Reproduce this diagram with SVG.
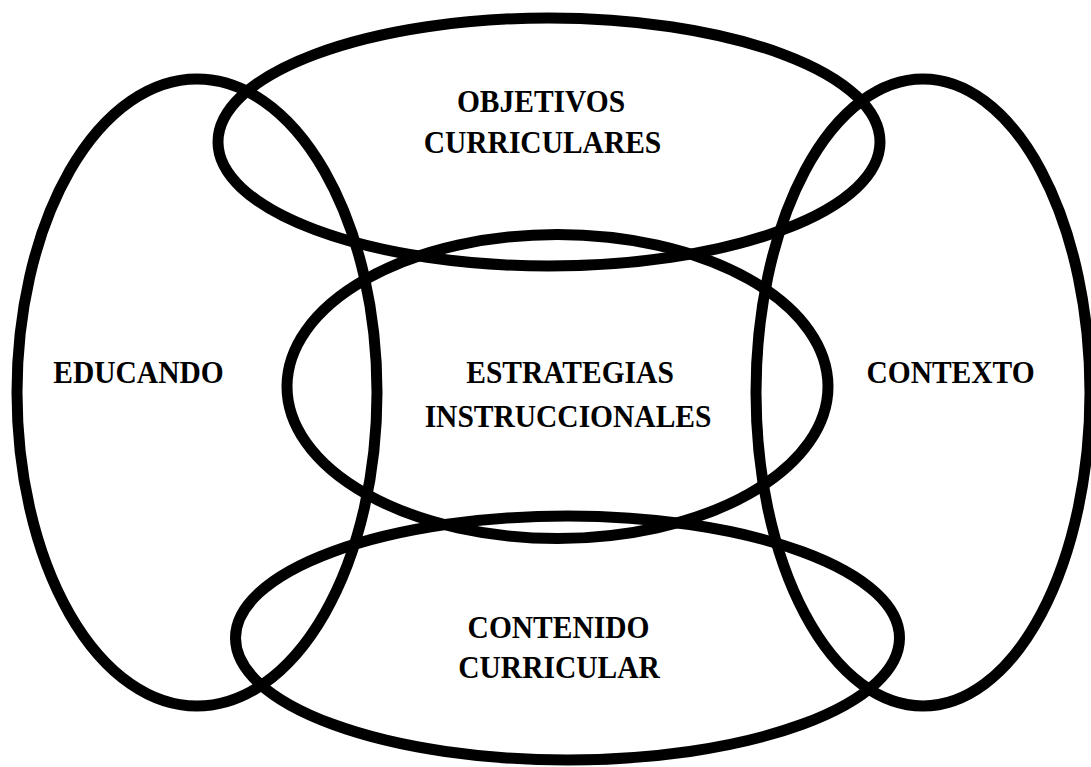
<svg xmlns="http://www.w3.org/2000/svg" width="1091" height="767" viewBox="0 0 1091 767">
<style>
.sh{fill:none;stroke:#000;stroke-width:11}
.t{font-family:"Liberation Serif","Times New Roman",serif;font-weight:bold;font-size:29.5px;fill:#000;text-anchor:middle}
</style>
<rect width="1091" height="767" fill="#fff"/>
<g id="educando"><ellipse class="sh" cx="197" cy="392.5" rx="180" ry="313.5"/><text class="t" transform="matrix(1 0 0 1.08 138.5 383)">EDUCANDO</text></g>
<g id="contexto"><ellipse class="sh" cx="923" cy="392.5" rx="167" ry="313.5"/><text class="t" transform="matrix(1 0 0 1.08 950.5 383)">CONTEXTO</text></g>
<g id="objetivos"><ellipse class="sh" cx="549" cy="142" rx="331" ry="124"/><text class="t" transform="matrix(1 0 0 1.08 541 112)">OBJETIVOS</text><text class="t" transform="matrix(1 0 0 1.08 542.5 153)">CURRICULARES</text></g>
<g id="estrategias"><ellipse class="sh" cx="557.5" cy="386.5" rx="270.5" ry="152"/><text class="t" transform="matrix(1 0 0 1.08 570 383)">ESTRATEGIAS</text><text class="t" transform="matrix(1 0 0 1.08 568 427)">INSTRUCCIONALES</text></g>
<g id="contenido"><ellipse class="sh" cx="567.5" cy="638" rx="332" ry="122"/><text class="t" transform="matrix(1 0 0 1.08 558.5 638)">CONTENIDO</text><text class="t" transform="matrix(1 0 0 1.08 559 678)">CURRICULAR</text></g>
<g id="connectors"/>
</svg>
